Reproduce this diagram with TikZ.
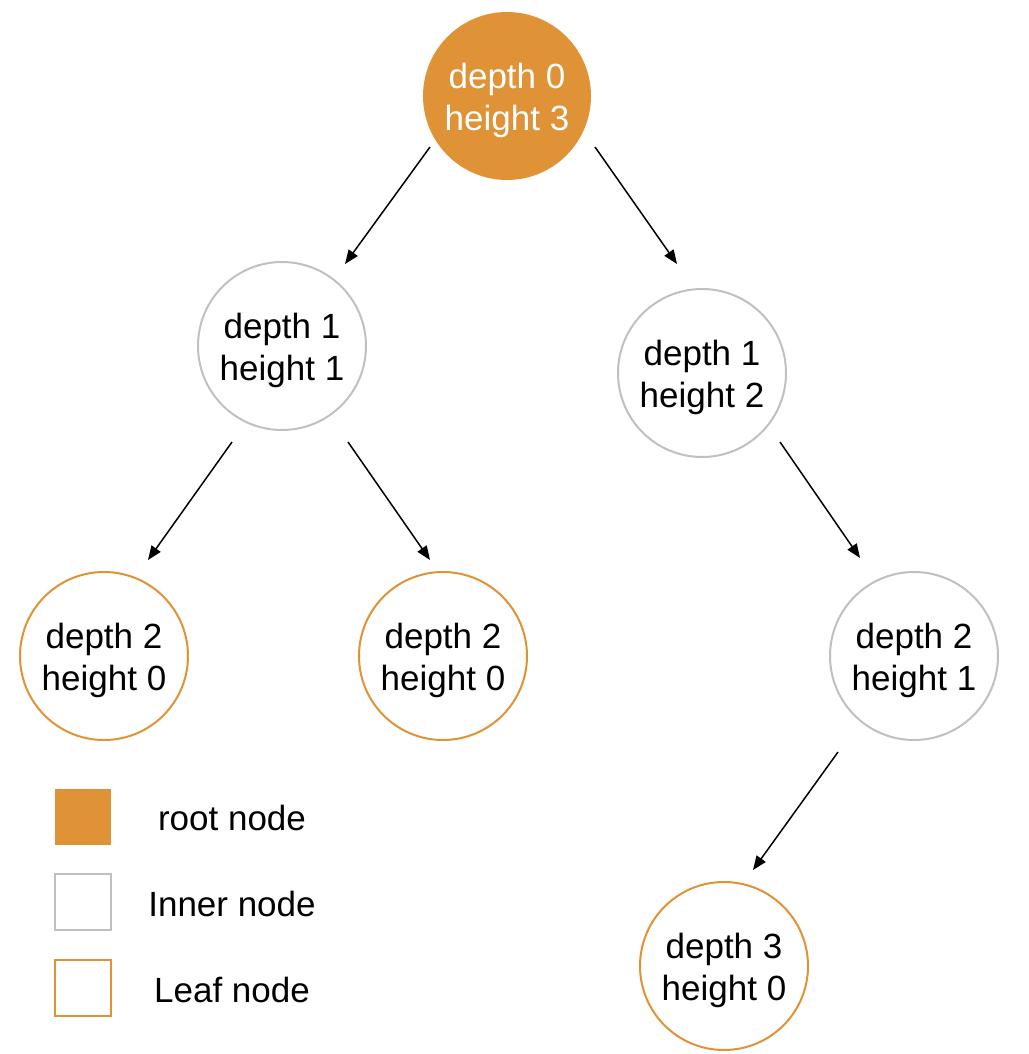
\documentclass[tikz,border=0pt]{standalone}
\usepackage{fontspec}
\setmainfont{Liberation Sans}
\usetikzlibrary{arrows.meta}
\definecolor{orng}{HTML}{E09236}
\definecolor{gry}{HTML}{C0C0C0}
\newcommand{\tpad}{\rule{0pt}{35pt}}
\begin{document}
\begin{tikzpicture}[x=1pt,y=-1pt,
  tnode/.style={circle,minimum size=168pt,inner sep=0pt,line width=2pt,align=center,font=\fontsize{35}{42}\selectfont},
  rootn/.style={tnode,fill=orng,text=white},
  innern/.style={tnode,draw=gry},
  leafn/.style={tnode,draw=orng},
  edge/.style={line width=1.5pt,-{Triangle[length=14pt,width=11pt]}},
  legbox/.style={minimum size=56pt,inner sep=0pt,line width=2pt},
  legtext/.style={font=\fontsize{35}{40}\selectfont}]
\useasboundingbox (0,0) rectangle (1028,1054);
\node[rootn] (r) at (507,96) {\tpad depth 0\\height 3};
\node[innern] (l1) at (282,346) {\tpad depth 1\\height 1};
\node[innern] (r1) at (702,373) {\tpad depth 1\\height 2};
\node[leafn] (a) at (104,656) {\tpad depth 2\\height 0};
\node[leafn] (b) at (443,656) {\tpad depth 2\\height 0};
\node[innern] (c) at (914,656) {\tpad depth 2\\height 1};
\node[leafn] (d) at (724,966) {\tpad depth 3\\height 0};
\coordinate (e1s) at (430,147); \coordinate (e1e) at (345,264);
\coordinate (e2s) at (595,147); \coordinate (e2e) at (677,264);
\coordinate (e3s) at (232,442); \coordinate (e3e) at (148,560);
\coordinate (e4s) at (348,442); \coordinate (e4e) at (430,560);
\coordinate (e5s) at (780,442); \coordinate (e5e) at (860,558);
\coordinate (e6s) at (838,752); \coordinate (e6e) at (753,870);
\draw[edge] (e1s) -- (e1e);
\draw[edge] (e2s) -- (e2e);
\draw[edge] (e3s) -- (e3e);
\draw[edge] (e4s) -- (e4e);
\draw[edge] (e5s) -- (e5e);
\draw[edge] (e6s) -- (e6e);
\node[legbox,fill=orng] (k1) at (82.5,816.5) {};
\node[legbox,draw=gry] (k2) at (82.5,901.5) {};
\node[legbox,draw=orng] (k3) at (82.5,987.5) {};
\node[legtext] (t1) at (232,818) {root node};
\node[legtext] (t2) at (232,904) {Inner node};
\node[legtext] (t3) at (232,990) {Leaf node};
\end{tikzpicture}
\end{document}
